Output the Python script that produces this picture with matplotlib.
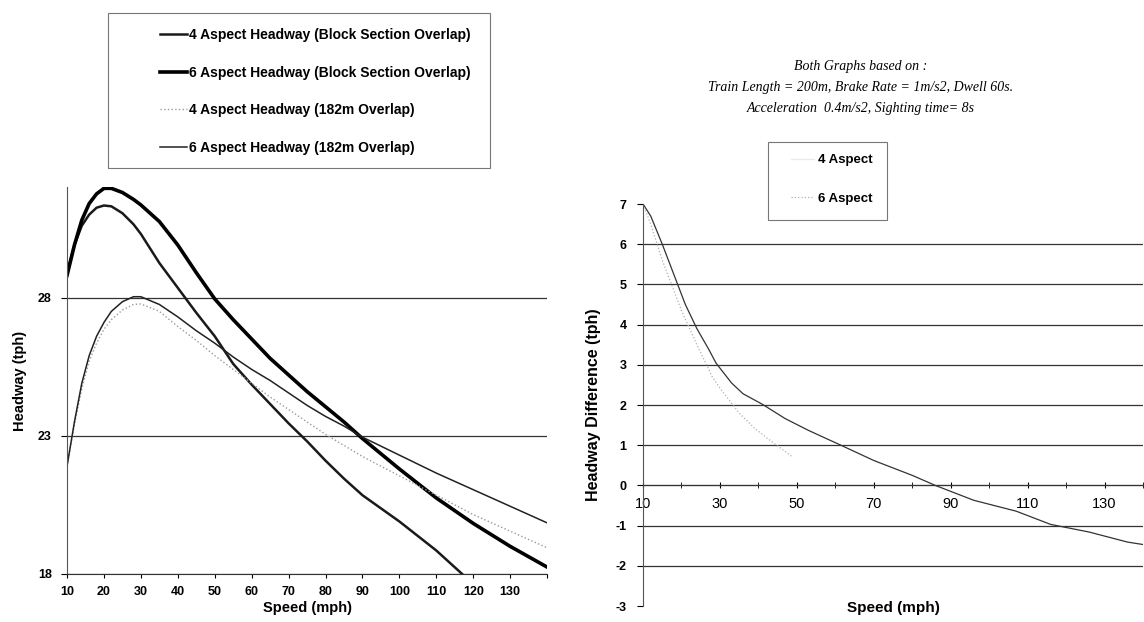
import matplotlib
matplotlib.use("Agg")
import matplotlib.pyplot as plt
from matplotlib.patches import Rectangle

plt.rcParams['font.family'] = ['Liberation Sans', 'DejaVu Sans']
plt.rcParams['axes.unicode_minus'] = False

# Left chart: headway (tph) against speed (mph)
speed = [10, 12, 14, 16, 18, 20, 22, 25, 28, 30, 35, 40, 45, 50, 55, 60, 65, 70,
         75, 80, 85, 90, 100, 110, 120, 130, 140]
h6_block = [28.8, 29.9, 30.8, 31.4, 31.75, 31.95, 31.95, 31.8, 31.55, 31.35, 30.75,
            29.9, 28.9, 27.95, 27.2, 26.5, 25.8, 25.2, 24.6, 24.05, 23.5, 22.9,
            21.8, 20.75, 19.83, 19.0, 18.25]
h6_182 = [21.9, 23.5, 24.9, 25.9, 26.6, 27.1, 27.5, 27.85, 28.03, 28.03, 27.75,
          27.3, 26.8, 26.35, 25.85, 25.4, 25.0, 24.55, 24.1, 23.7, 23.35, 22.95,
          22.3, 21.65, 21.05, 20.45, 19.85]
h4_182 = [21.9, 23.4, 24.7, 25.7, 26.35, 26.85, 27.2, 27.55, 27.75, 27.77, 27.5,
          26.95, 26.45, 25.9, 25.4, 24.9, 24.4, 23.95, 23.5, 23.05, 22.65, 22.25,
          21.55, 20.85, 20.15, 19.55, 18.95]
speed_4b = [10, 12, 14, 16, 18, 20, 22, 25, 28, 30, 35, 40, 45, 50, 55, 60, 65, 70,
            75, 80, 85, 90, 100, 110, 117]
h4_block = [28.9, 29.9, 30.6, 31.0, 31.25, 31.33, 31.3, 31.05, 30.65, 30.3, 29.25,
            28.35, 27.45, 26.6, 25.6, 24.85, 24.15, 23.45, 22.8, 22.1, 21.45, 20.85,
            19.9, 18.85, 18.0]

# Right chart: headway difference (tph)
diff_speed_a = [10, 12, 15, 17, 19, 21, 24, 27, 29, 33, 36, 41, 47, 53, 58, 61, 70,
                80, 86, 96, 107, 116, 126, 136, 140]
diff_a = [7.0, 6.7, 6.0, 5.5, 5.0, 4.5, 3.9, 3.4, 3.04, 2.55, 2.28, 2.02, 1.66, 1.37,
          1.15, 1.02, 0.62, 0.25, 0.0, -0.37, -0.64, -0.97, -1.16, -1.41, -1.47]
diff_speed_b = [10, 12, 15, 20, 24, 28, 30, 35, 39, 44, 49]
diff_b = [7.0, 6.5, 5.6, 4.35, 3.5, 2.7, 2.42, 1.8, 1.42, 1.05, 0.7]

fig = plt.figure(figsize=(11.44, 6.22), dpi=100)

# ---- left chart
ax1 = fig.add_axes([0.0586, 0.0772, 0.4196, 0.6222])
l1, = ax1.plot(speed_4b, h4_block, color='#1a1a1a', lw=1.8,
               label='4 Aspect Headway (Block Section Overlap)')
l2, = ax1.plot(speed, h6_block, color='black', lw=2.6,
               label='6 Aspect Headway (Block Section Overlap)')
l3, = ax1.plot(speed, h4_182, color='#999999', lw=1.0, ls=':',
               label='4 Aspect Headway (182m Overlap)')
l4, = ax1.plot(speed, h6_182, color='#222222', lw=1.1,
               label='6 Aspect Headway (182m Overlap)')
ax1.set_xlim(10, 140)
ax1.set_ylim(18, 32)
ax1.set_yticks([18, 23, 28])
ax1.set_xticks(range(10, 141, 10))
ax1.set_xticklabels([str(v) for v in range(10, 131, 10)] + [''])
ax1.grid(axis='y', color='#333333', lw=0.9)
for s in ['top', 'right']:
    ax1.spines[s].set_visible(False)
ax1.spines['left'].set_color('#555555')
ax1.spines['bottom'].set_color('#333333')
ax1.tick_params(axis='x', direction='out', length=3, pad=6, labelsize=9)
ax1.tick_params(axis='y', direction='out', length=4, pad=7, labelsize=9)
for t in ax1.get_xticklabels() + ax1.get_yticklabels():
    t.set_fontweight('bold')
ax1.set_xlabel('Speed (mph)', fontsize=10.5, fontweight='bold', labelpad=2)
ax1.set_ylabel('Headway (tph)', fontsize=10.5, fontweight='bold', labelpad=8)

fig.add_artist(Rectangle((0.0944, 0.7299), 0.334, 0.249, transform=fig.transFigure,
                         fill=False, edgecolor='#777777', lw=0.8))
fig.legend(handles=[l1, l2, l3, l4], loc='upper left', bbox_to_anchor=(0.134, 0.966),
           frameon=False, borderpad=0, labelspacing=1.7, handlelength=1.95,
           handletextpad=0.15, prop={'size': 10, 'weight': 'bold'})

# ---- right chart
ax2 = fig.add_axes([0.5621, 0.0257, 0.437, 0.6463])
r1, = ax2.plot(diff_speed_a, diff_a, color='#333333', lw=0.9, label='4 Aspect')
r2, = ax2.plot(diff_speed_b, diff_b, color='#b0b0b0', lw=0.9, ls=':', label='6 Aspect')
ax2.set_xlim(10, 140)
ax2.set_ylim(-3, 7)
ax2.set_yticks(range(-3, 8))
ax2.set_xticks(range(10, 131, 20))
ax2.set_xticks(range(20, 141, 20), minor=True)
ax2.grid(axis='y', color='#333333', lw=0.9)
gl = ax2.get_ygridlines()
gl[0].set_visible(False)
gl[-1].set_visible(False)
for s in ['top', 'right']:
    ax2.spines[s].set_visible(False)
ax2.spines['bottom'].set_position(('data', 0))
ax2.spines['bottom'].set_color('#333333')
ax2.spines['left'].set_color('#555555')
ax2.tick_params(axis='x', which='both', direction='inout', length=4, pad=6, labelsize=10.5)
ax2.tick_params(axis='y', direction='out', length=4, pad=8, labelsize=9)
for t in ax2.get_yticklabels():
    t.set_fontweight('bold')
ax2.set_xlabel('Speed (mph)', fontsize=11, fontweight='bold')
ax2.xaxis.set_label_coords(0.5, 0.012)
ax2.set_ylabel('Headway Difference (tph)', fontsize=11.5, fontweight='bold', labelpad=10)

fig.add_artist(Rectangle((0.6713, 0.6463), 0.104, 0.1254, transform=fig.transFigure,
                         fill=False, edgecolor='#777777', lw=0.8))
leg2 = fig.legend(handles=[r1, r2], loc='upper left', bbox_to_anchor=(0.686, 0.763),
                  frameon=False, borderpad=0, labelspacing=2.0, handlelength=1.75,
                  handletextpad=0.3, prop={'size': 9.5, 'weight': 'bold'})
leg2.get_lines()[0].set_alpha(0.1)

fig.text(0.752, 0.86,
         'Both Graphs based on :\n'
         'Train Length = 200m, Brake Rate = 1m/s2, Dwell 60s.\n'
         'Acceleration  0.4m/s2, Sighting time= 8s',
         ha='center', va='center', fontsize=10, style='italic',
         family='Liberation Serif', linespacing=1.8)

fig.savefig('out.png', dpi=100)
